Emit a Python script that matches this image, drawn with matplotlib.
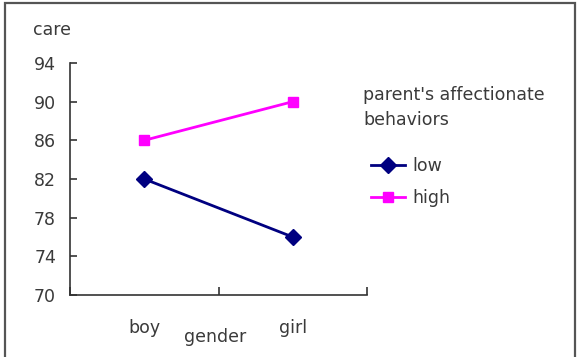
import matplotlib.pyplot as plt
from matplotlib.patches import Rectangle

# data
genders = ['boy', 'girl']
low_care = [82, 76]
high_care = [86, 90]
y_ticks = [70, 74, 78, 82, 86, 90, 94]

plt.rcParams['font.family'] = ['DejaVu Sans']
text_color = '#3a3a3a'
fs = 12.5

fig = plt.figure(figsize=(5.84, 3.57), dpi=100)
fig.patch.set_facecolor('white')

# outer frame around the chart
fig.patches.append(Rectangle((5 / 584, -0.05), 570 / 584, 1.05 - 3 / 357,
                             transform=fig.transFigure, fill=False,
                             edgecolor='#555555', linewidth=1.6))

ax = fig.add_axes([70 / 584, 1 - 295 / 357, 297 / 584, 232 / 357])

x = [0.5, 1.5]
ax.plot(x, low_care, color='#000080', marker='D', markersize=8.5, linewidth=2, label='low')
ax.plot(x, high_care, color='#ff00ff', marker='s', markersize=7, linewidth=2, label='high')

ax.set_xlim(0, 2)
ax.set_ylim(70, 94)
ax.set_yticks(y_ticks)
ax.set_xticks([0, 1, 2])
ax.set_xticklabels([])
ax.set_xticks(x, minor=True)
ax.set_xticklabels(genders, minor=True)

for side in ['top', 'right']:
    ax.spines[side].set_visible(False)
for side in ['left', 'bottom']:
    ax.spines[side].set_color('#333333')
    ax.spines[side].set_linewidth(1.2)

ax.tick_params(axis='y', direction='in', length=5, width=1.2, color='#333333',
               labelsize=fs, labelcolor=text_color, pad=10)
ax.tick_params(axis='x', which='major', direction='in', length=6, width=1.2, color='#333333')
ax.tick_params(axis='x', which='minor', length=0, labelsize=fs, labelcolor=text_color, pad=17)

ax.text(-0.125, 1.142, 'care', transform=ax.transAxes, fontsize=fs, color=text_color,
        ha='left', va='center')
ax.text(0.488, -0.181, 'gender', transform=ax.transAxes, fontsize=fs, color=text_color,
        ha='center', va='center')

# legend title written separately so its line spacing can match
fig.text(363 / 584, 1 - 107 / 357, "parent's affectionate\nbehaviors", fontsize=fs,
         color=text_color, ha='left', va='center', linespacing=1.5)
leg = ax.legend(frameon=False, loc='upper left', bbox_to_anchor=(362 / 584, 1 - 148 / 357),
                bbox_transform=fig.transFigure, fontsize=fs, borderpad=0,
                handlelength=2.0, handletextpad=0.4, labelspacing=0.85,
                labelcolor=text_color)

fig.savefig('out.png', dpi=100)
